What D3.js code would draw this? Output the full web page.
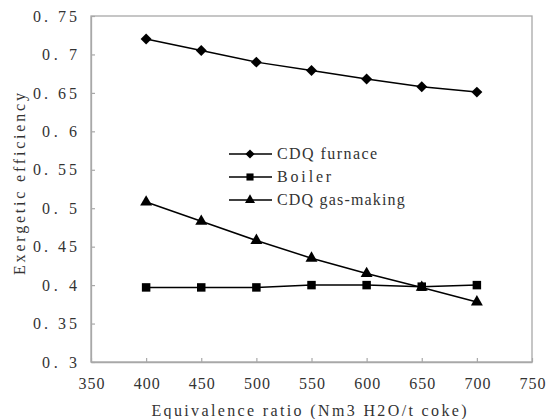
<!DOCTYPE html>
<html><head><meta charset="utf-8">
<script src="https://cdn.jsdelivr.net/npm/d3@7"></script>
<style>
body{margin:0;background:#fff;}
text{font-family:"Liberation Serif","DejaVu Serif",serif;fill:#333;}
</style></head>
<body><svg id="c" width="552" height="419"></svg>
<script>
const xValues = [400, 450, 500, 550, 600, 650, 700];
const furnace = [0.720, 0.705, 0.690, 0.679, 0.668, 0.658, 0.651];
const boiler = [0.397, 0.397, 0.397, 0.400, 0.400, 0.398, 0.400];
const gasMaking = [0.508, 0.483, 0.458, 0.435, 0.415, 0.397, 0.378];
const seriesNames = ["CDQ furnace", "Boiler", "CDQ gas-making"];
const xTicks = [350, 400, 450, 500, 550, 600, 650, 700, 750];
const yTicks = [0.3, 0.35, 0.4, 0.45, 0.5, 0.55, 0.6, 0.65, 0.7, 0.75];

const svg = d3.select("#c");
const L = 91, R = 532, T = 16, B = 362;
const x = d3.scaleLinear().domain([350, 750]).range([L, R]);
const y = d3.scaleLinear().domain([0.3, 0.75]).range([B, T]);
const grey = "#a8a8a8";
const fs = 16;
const mono = (sel, w) => sel.each(function(){
  const t = d3.select(this).text();
  d3.select(this).attr("textLength", t.length * w - 1).attr("lengthAdjust", "spacing");
});

// frame
svg.append("rect").attr("x", L).attr("y", T).attr("width", R - L).attr("height", B - T)
  .attr("fill", "none").attr("stroke", grey).attr("stroke-width", 1.3);

const fmtY = d => String(+d.toFixed(2)).replace(".", ". ");
const ya = svg.append("g").attr("transform", `translate(${L},0)`)
  .call(d3.axisLeft(y).tickValues(yTicks).tickSizeInner(-4).tickSizeOuter(0).tickPadding(14).tickFormat(fmtY));
const xa = svg.append("g").attr("transform", `translate(0,${B})`)
  .call(d3.axisBottom(x).tickValues(xTicks).tickSizeInner(-4).tickSizeOuter(0).tickPadding(16).tickFormat(d3.format("d")));
[ya, xa].forEach(g => {
  g.select(".domain").attr("stroke", grey).attr("stroke-width", 1.3);
  g.selectAll(".tick line").attr("stroke", grey).attr("stroke-width", 1.2);
  g.selectAll(".tick text").attr("font-size", fs).attr("fill", "#333")
    .attr("font-family", '"Liberation Serif",serif').call(mono, 9);
});

svg.append("text").attr("x", 309).attr("y", 416).attr("text-anchor", "middle")
  .attr("font-size", fs).text("Equivalence ratio (Nm3 H2O/t coke)").call(mono, 9.3);
svg.append("text").attr("transform", `translate(25,${184}) rotate(-90)`)
  .attr("text-anchor", "middle").attr("font-size", fs).text("Exergetic efficiency").call(mono, 9.15);

const series = [
  {name: seriesNames[0], vals: furnace, sym: d3.symbolSquare, size: 60, rot: 45},
  {name: seriesNames[1], vals: boiler, sym: d3.symbolSquare, size: 72, rot: 0},
  {name: seriesNames[2], vals: gasMaking, sym: d3.symbolTriangle, size: 62, rot: 0}
];
const line = d3.line().x((d, i) => x(xValues[i])).y(d => y(d));
series.forEach(s => {
  svg.append("path").attr("d", line(s.vals)).attr("fill", "none")
    .attr("stroke", "#000").attr("stroke-width", 1.5);
  svg.selectAll(null).data(s.vals).enter().append("path")
    .attr("transform", (d, i) => `translate(${x(xValues[i])},${y(d)}) rotate(${s.rot})`)
    .attr("d", d3.symbol().type(s.sym).size(s.size)).attr("fill", "#000");
});

// legend
const lg = svg.append("g");
series.forEach((s, i) => {
  const yy = 154 + i * 23;
  lg.append("line").attr("x1", 229).attr("x2", 272).attr("y1", yy).attr("y2", yy)
    .attr("stroke", "#000").attr("stroke-width", 1.5);
  lg.append("path").attr("transform", `translate(250,${yy}) rotate(${s.rot})`)
    .attr("d", d3.symbol().type(s.sym).size(s.size * 0.7)).attr("fill", "#000");
  lg.append("text").attr("x", 277).attr("y", yy + 5).attr("font-size", fs).text(s.name).call(mono, 9.2);
});
</script></body></html>
